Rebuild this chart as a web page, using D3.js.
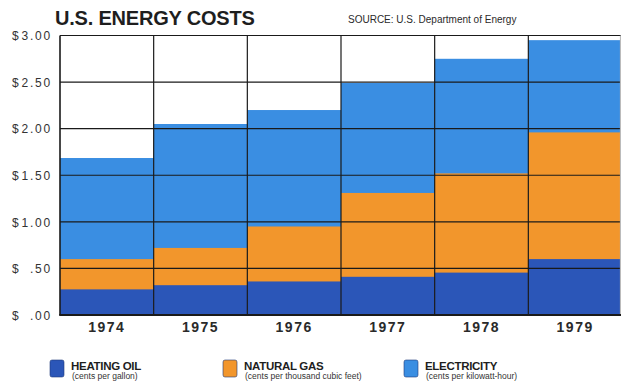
<!DOCTYPE html>
<html>
<head>
<meta charset="utf-8">
<script src="https://cdn.jsdelivr.net/npm/d3@7"></script>
<style>
  html, body { margin: 0; padding: 0; background: #fff; }
  svg { display: block; font-family: "Liberation Sans", Arial, sans-serif; }
</style>
</head>
<body>
<svg id="chart" width="621" height="382"></svg>
<script>
const years = ["1974", "1975", "1976", "1977", "1978", "1979"];
const heatingOil = [0.275, 0.32, 0.36, 0.41, 0.455, 0.60];
const naturalGas = [0.60, 0.72, 0.95, 1.31, 1.52, 1.96];
const electricity = [1.685, 2.05, 2.20, 2.49, 2.75, 2.95];
const yTicks = [0, 0.5, 1.0, 1.5, 2.0, 2.5, 3.0];
const seriesNames = ["HEATING OIL", "NATURAL GAS", "ELECTRICITY"];
const seriesUnits = ["(cents per gallon)", "(cents per thousand cubic feet)", "(cents per kilowatt-hour)"];
const colors = ["#2b56b8", "#f2962c", "#3a8ee2"];

const svg = d3.select("#chart");
const mLeft = 60, mRight = 622, mTop = 35.5, mBottom = 315;

const x = d3.scaleBand().domain(years).range([mLeft, mRight]).padding(0);
const y = d3.scaleLinear().domain([0, 3]).range([mBottom, mTop]);

// Draw series (tallest first so they overlap)
const series = [
  { values: electricity, color: colors[2] },
  { values: naturalGas, color: colors[1] },
  { values: heatingOil, color: colors[0] }
];
series.forEach(s => {
  svg.append("g").selectAll("rect")
    .data(years.map((yr, i) => ({ yr, v: s.values[i] })))
    .join("rect")
    .attr("x", d => x(d.yr))
    .attr("width", x.bandwidth())
    .attr("y", d => y(d.v))
    .attr("height", d => y(0) - y(d.v))
    .attr("fill", s.color);
});

// horizontal grid
svg.append("g").selectAll("line")
  .data(yTicks.filter(t => t > 0))
  .join("line")
  .attr("x1", mLeft).attr("x2", mRight)
  .attr("y1", d => y(d)).attr("y2", d => y(d))
  .attr("stroke", "#1a1a1a").attr("stroke-width", 1.2);

// vertical grid (column boundaries)
const bounds = years.map(yr => x(yr)).concat([mRight - 1.5]);
svg.append("g").selectAll("line")
  .data(bounds)
  .join("line")
  .attr("x1", d => d).attr("x2", d => d)
  .attr("y1", y(3)).attr("y2", y(0))
  .attr("stroke", (d, i) => i === bounds.length - 1 ? "#bbb" : "#1a1a1a")
  .attr("stroke-width", (d, i) => i === 0 ? 1.6 : 1.2);

// baseline
svg.append("line")
  .attr("x1", mLeft - 0.8).attr("x2", mRight)
  .attr("y1", y(0)).attr("y2", y(0))
  .attr("stroke", "#1a1a1a").attr("stroke-width", 2);

// Y axis labels via d3 axis
const yAxis = d3.axisLeft(y).tickValues(yTicks).tickSize(0).tickPadding(0);
const gy = svg.append("g").attr("transform", `translate(${mLeft},0)`).call(yAxis);
gy.select(".domain").remove();
gy.selectAll(".tick text").each(function(d) {
  const t = d3.select(this);
  t.text(null).attr("fill", "#333").attr("font-size", 12)
   .attr("font-family", "'Liberation Sans', Arial, sans-serif")
   .attr("dy", "0.36em");
  t.append("tspan").attr("x", -48).attr("text-anchor", "start").text("$");
  const num = d >= 1 ? d.toFixed(2) : d.toFixed(2).replace(/^0/, "");
  t.append("tspan").attr("x", -8).attr("text-anchor", "end")
   .attr("letter-spacing", "1.8px").text(num);
});

// X axis labels
const xAxis = d3.axisBottom(x).tickSize(0).tickPadding(0);
const gx = svg.append("g").attr("transform", `translate(0,${mBottom})`).call(xAxis);
gx.select(".domain").remove();
gx.selectAll(".tick text")
  .attr("y", 17).attr("dy", 0)
  .attr("font-size", 14).attr("font-weight", "bold")
  .attr("font-family", "'Liberation Sans', Arial, sans-serif")
  .attr("letter-spacing", "1.5px")
  .attr("fill", "#2a2a2a");

// Title
svg.append("text").attr("x", 55).attr("y", 25)
  .attr("font-size", 20).attr("font-weight", "bold").attr("fill", "#1e1e1e")
  .attr("letter-spacing", "-0.2px")
  .text("U.S. ENERGY COSTS");
svg.append("text").attr("x", 348).attr("y", 22.5)
  .attr("font-size", 10).attr("fill", "#2a2a2a")
  .text("SOURCE: U.S. Department of Energy");

// Legend
const legendX = [50, 223, 404];
const lg = svg.append("g").selectAll("g")
  .data(seriesNames.map((n, i) => ({ n, u: seriesUnits[i], c: colors[i], lx: legendX[i] })))
  .join("g")
  .attr("transform", d => `translate(${d.lx},360)`);
lg.append("rect").attr("x", 0).attr("y", 0).attr("width", 14).attr("height", 17)
  .attr("rx", 2).attr("fill", d => d.c).attr("stroke", "#1e3a7a").attr("stroke-width", 0.6);
lg.append("text").attr("x", 21).attr("y", 9.5)
  .attr("font-size", 11.5).attr("font-weight", "bold").attr("fill", "#1e1e1e")
  .attr("letter-spacing", "-0.3px")
  .text(d => d.n);
lg.append("text").attr("x", 22).attr("y", 19)
  .attr("font-size", 8.5).attr("fill", "#333")
  .text(d => d.u);
</script>
</body>
</html>
